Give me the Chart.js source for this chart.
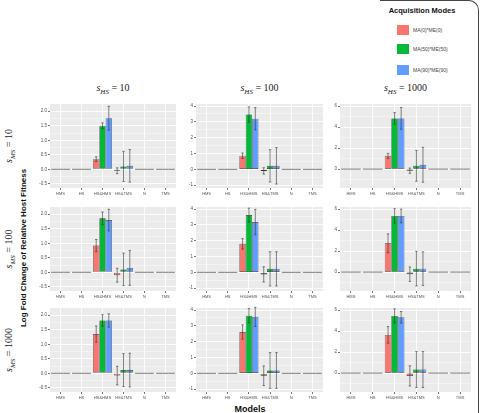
<!DOCTYPE html>
<html lang="en">
<head>
<meta charset="UTF-8">
<title>Log Fold Change of Relative Host Fitness</title>
<style>
  body { margin: 0; width: 483px; height: 413px; position: relative; overflow: hidden; background: #fff;
         font-family: 'Liberation Sans', Arial, sans-serif; }
  .panel { position: absolute; }
  .math { position: absolute; font-family: 'Liberation Serif', serif; font-size: 10px; color: #222;
          white-space: nowrap; transform: translate(-50%, -50%); }
  .math sub { font-size: 7px; }
  .title { position: absolute; font-weight: bold; color: #111; white-space: nowrap; transform: translate(-50%, -50%); }
  .math.rot, .title.rot { transform: translate(-50%, -50%) rotate(-90deg); }
  .key { position: absolute; left: 397px; width: 12px; height: 10px; }
  .keylab { position: absolute; left: 413px; font-size: 5px; color: #444; white-space: nowrap; }
  .frame { position: absolute; left: 380px; top: 0; width: 99px; height: 430px; border-top: 1px solid #444;
           border-right: 1px solid #444; border-top-right-radius: 10px; box-sizing: border-box; }
</style>
</head>
<body>

<div class="frame"></div>

<!-- legend -->
<div class="title" style="left:422px; top:10px; font-size:7.5px;">Acquisition Modes</div>
<div id="legend"></div>

<!-- facet strips -->
<div id="strips"></div>

<div class="title rot" style="left:23px; top:248px; font-size:8px;">Log Fold Change of Relative Host Fitness</div>
<div class="title" style="left:250px; top:409px; font-size:9px;">Models</div>

<script src="https://cdn.jsdelivr.net/npm/chart.js"></script>
<script>
// categorias y grupos
const models = ['HMS', 'HS', 'HS&HMS', 'HS&TMS', 'N', 'TMS'];
const modes = ['MA(0)*ME(0)', 'MA(50)*ME(50)', 'MA(90)*ME(90)'];
const modeColors = ['#F8766D', '#00BA38', '#619CFF'];
const hsValues = ['10', '100', '1000'];   // columnas
const msValues = ['10', '100', '1000'];   // filas

// medias: [columna s_HS][modo][modelo]
const meanMs10 = [
  [[0, 0, 0.35, -0.05, 0, 0], [0, 0, 1.50, 0.10, 0, 0], [0, 0, 1.76, 0.12, 0, 0]],
  [[0, 0, 0.86, -0.10, 0, 0], [0, 0, 3.47, 0.22, 0, 0], [0, 0, 3.20, 0.22, 0, 0]],
  [[0, 0, 1.26, -0.15, 0, 0], [0, 0, 4.83, 0.31, 0, 0], [0, 0, 4.83, 0.41, 0, 0]]
];
const meanMs100 = [
  [[0, 0, 0.92, -0.10, 0, 0], [0, 0, 1.86, 0.10, 0, 0], [0, 0, 1.80, 0.15, 0, 0]],
  [[0, 0, 1.80, -0.13, 0, 0], [0, 0, 3.62, 0.22, 0, 0], [0, 0, 3.18, 0.22, 0, 0]],
  [[0, 0, 2.74, -0.20, 0, 0], [0, 0, 5.35, 0.33, 0, 0], [0, 0, 5.35, 0.33, 0, 0]]
];
const meanMs1000 = [
  [[0, 0, 1.35, -0.08, 0, 0], [0, 0, 1.82, 0.11, 0, 0], [0, 0, 1.82, 0.11, 0, 0]],
  [[0, 0, 2.61, -0.15, 0, 0], [0, 0, 3.64, 0.18, 0, 0], [0, 0, 3.57, 0.18, 0, 0]],
  [[0, 0, 3.64, -0.27, 0, 0], [0, 0, 5.45, 0.34, 0, 0], [0, 0, 5.32, 0.34, 0, 0]]
];

// desviaciones (barras de error +/-)
const sdMs10 = [
  [[0, 0, 0.08, 0.10, 0, 0], [0, 0, 0.10, 0.52, 0, 0], [0, 0, 0.41, 0.56, 0, 0]],
  [[0, 0, 0.17, 0.20, 0, 0], [0, 0, 0.48, 1.02, 0, 0], [0, 0, 0.70, 1.15, 0, 0]],
  [[0, 0, 0.24, 0.25, 0, 0], [0, 0, 0.55, 1.47, 0, 0], [0, 0, 1.03, 1.66, 0, 0]]
];
const sdMs100 = [
  [[0, 0, 0.21, 0.24, 0, 0], [0, 0, 0.22, 0.56, 0, 0], [0, 0, 0.37, 0.60, 0, 0]],
  [[0, 0, 0.33, 0.48, 0, 0], [0, 0, 0.44, 1.08, 0, 0], [0, 0, 0.80, 1.08, 0, 0]],
  [[0, 0, 0.90, 0.69, 0, 0], [0, 0, 0.69, 1.65, 0, 0], [0, 0, 0.65, 1.60, 0, 0]]
];
const sdMs1000 = [
  [[0, 0, 0.28, 0.32, 0, 0], [0, 0, 0.20, 0.57, 0, 0], [0, 0, 0.23, 0.58, 0, 0]],
  [[0, 0, 0.45, 0.62, 0, 0], [0, 0, 0.45, 1.13, 0, 0], [0, 0, 0.60, 1.13, 0, 0]],
  [[0, 0, 0.79, 0.96, 0, 0], [0, 0, 0.67, 1.71, 0, 0], [0, 0, 0.55, 1.71, 0, 0]]
];

const means = [meanMs10, meanMs100, meanMs1000];
const sds = [sdMs10, sdMs100, sdMs1000];

// eje y por columna
const yMin = [-0.645, -1.18, -1.8];
const yMax = [2.25, 4.13, 6.2];
const yMajor = [[-0.5, 0, 0.5, 1, 1.5, 2], [-1, 0, 1, 2, 3, 4], [0, 2, 4, 6]];
const yMinor = [[-0.25, 0.25, 0.75, 1.25, 1.75], [-0.5, 0.5, 1.5, 2.5, 3.5], [-1, 1, 3, 5]];
const yDecimals = [1, 0, 0];

// posiciones de los paneles (area gris)
const grayLeft = [50, 196, 340];
const grayWidth = [126, 127, 131];
const grayTop = [104, 207, 308];
const grayHeight = 84;
const yAxisW = 16, padTop = 4, xAxisH = 12, padRight = 2;

const tickFont = { family: "'Liberation Sans', Arial, sans-serif", size: 4.5 };

// fondo gris del panel
const panelBg = {
    id: 'panelBg',
    beforeDraw(chart) {
        const { ctx, chartArea: a } = chart;
        ctx.save();
        ctx.fillStyle = '#EBEBEB';
        ctx.fillRect(a.left, a.top, a.width, a.height);
        ctx.restore();
    }
};

// barras de error
const errorBars = {
    id: 'errorBars',
    afterDatasetsDraw(chart) {
        const { ctx } = chart;
        const y = chart.scales.y;
        ctx.save();
        ctx.strokeStyle = '#333';
        ctx.lineWidth = 0.6;
        chart.data.datasets.forEach((ds, i) => {
            chart.getDatasetMeta(i).data.forEach((bar, j) => {
                const sd = ds.sd[j];
                if (!sd) return;
                const top = y.getPixelForValue(ds.data[j] + sd);
                const bot = y.getPixelForValue(ds.data[j] - sd);
                const cap = 1.2;
                ctx.beginPath();
                ctx.moveTo(bar.x, top); ctx.lineTo(bar.x, bot);
                ctx.moveTo(bar.x - cap, top); ctx.lineTo(bar.x + cap, top);
                ctx.moveTo(bar.x - cap, bot); ctx.lineTo(bar.x + cap, bot);
                ctx.stroke();
            });
        });
        ctx.restore();
    }
};

// leyenda
const legend = document.getElementById('legend');
const keyTops = [25, 44, 65];
modes.forEach((m, k) => {
    legend.insertAdjacentHTML('beforeend',
        `<div class="key" style="top:${keyTops[k]}px; background:${modeColors[k]}"></div>` +
        `<div class="keylab" style="top:${keyTops[k] + 2}px">${m}</div>`);
});

// titulos de facetas
const strips = document.getElementById('strips');
hsValues.forEach((v, c) => {
    strips.insertAdjacentHTML('beforeend',
        `<div class="math" style="left:${grayLeft[c] + grayWidth[c] / 2}px; top:89px"><i>s</i><sub><i>HS</i></sub> = ${v}</div>`);
});
msValues.forEach((v, r) => {
    strips.insertAdjacentHTML('beforeend',
        `<div class="math rot" style="left:10px; top:${grayTop[r] + grayHeight / 2}px"><i>s</i><sub><i>MS</i></sub> = ${v}</div>`);
});

// paneles
msValues.forEach((ms, r) => {
    hsValues.forEach((hs, c) => {
        const box = document.createElement('div');
        box.className = 'panel';
        box.style.left = (grayLeft[c] - yAxisW) + 'px';
        box.style.top = (grayTop[r] - padTop) + 'px';
        box.style.width = (yAxisW + grayWidth[c] + padRight) + 'px';
        box.style.height = (padTop + grayHeight + xAxisH) + 'px';
        const canvas = document.createElement('canvas');
        box.appendChild(canvas);
        document.body.appendChild(box);

        const isMinor = v => yMinor[c].includes(v);

        new Chart(canvas, {
            type: 'bar',
            data: {
                labels: models,
                datasets: modes.map((m, k) => ({
                    label: m,
                    data: means[r][c][k],
                    sd: sds[r][c][k],
                    backgroundColor: ctx => ctx.raw === 0 ? '#7a7a7a' : modeColors[k],
                    borderColor: '#333',
                    borderWidth: ctx => ctx.raw === 0 ? 0 : 0.6,
                    borderSkipped: false,
                    minBarLength: 1,
                    categoryPercentage: 0.9,
                    barPercentage: 1
                }))
            },
            options: {
                responsive: true,
                maintainAspectRatio: false,
                animation: false,
                layout: { padding: { top: padTop, right: padRight, left: 0, bottom: 0 } },
                plugins: { legend: { display: false }, tooltip: { enabled: false } },
                scales: {
                    x: {
                        offset: true,
                        border: { display: false },
                        grid: { color: '#fff', lineWidth: 0.9, offset: false, tickLength: 2, tickColor: '#666' },
                        ticks: { font: { ...tickFont, size: 4 }, color: '#555', padding: 1, maxRotation: 0, autoSkip: false },
                        afterFit: s => { s.height = xAxisH; }
                    },
                    y: {
                        min: yMin[c],
                        max: yMax[c],
                        border: { display: false },
                        afterBuildTicks: s => {
                            s.ticks = [...yMajor[c], ...yMinor[c]].sort((a, b) => a - b).map(v => ({ value: v }));
                        },
                        grid: {
                            color: '#fff',
                            lineWidth: ctx => isMinor(ctx.tick.value) ? 0.4 : 0.9,
                            tickLength: 2,
                            tickColor: ctx => isMinor(ctx.tick.value) ? 'rgba(0,0,0,0)' : '#666'
                        },
                        ticks: {
                            font: tickFont, color: '#555', padding: 1, autoSkip: false,
                            callback: v => isMinor(v) ? '' : v.toFixed(yDecimals[c])
                        },
                        afterFit: s => { s.width = yAxisW; }
                    }
                }
            },
            plugins: [panelBg, errorBars]
        });
    });
});
</script>
</body>
</html>
